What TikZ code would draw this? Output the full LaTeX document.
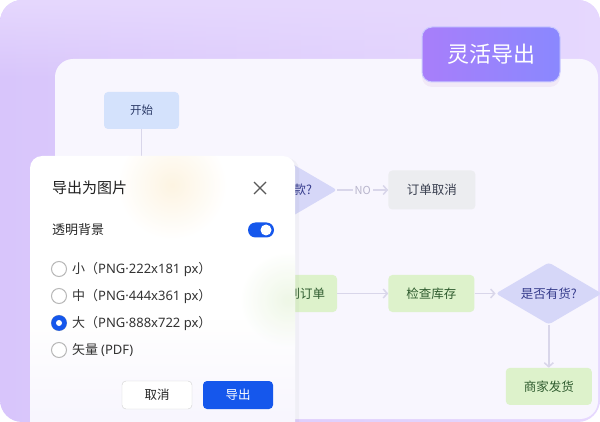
\documentclass[tikz,border=0pt]{standalone}
\usepackage{fontspec}
\setmainfont{Noto Sans CJK SC}
\newfontfamily\latinfont{Noto Sans}
\usetikzlibrary{positioning}
\usetikzlibrary{shapes.geometric}
\usetikzlibrary{arrows.meta}
\usetikzlibrary{shadows}
\usetikzlibrary{fadings}
\definecolor{bgtop}{HTML}{E6D8FE}
\definecolor{bgside}{HTML}{D8C5FB}
\definecolor{panelbg}{HTML}{F8F6FE}
\definecolor{startfill}{HTML}{D4E2FC}
\definecolor{startink}{HTML}{2B3A67}
\definecolor{askfill}{HTML}{D6D7F8}
\definecolor{askink}{HTML}{363C8C}
\definecolor{grayfill}{HTML}{ECEDF0}
\definecolor{grayink}{HTML}{3A4050}
\definecolor{greenfill}{HTML}{DDF2CB}
\definecolor{greenink}{HTML}{2E5B2E}
\definecolor{edgeink}{HTML}{D9D6EA}
\definecolor{noink}{HTML}{B8B5CC}
\definecolor{btnblue}{HTML}{1557EC}
\definecolor{dlgink}{HTML}{333333}
\definecolor{badgeleft}{HTML}{A87EFA}
\definecolor{badgeright}{HTML}{8A88FE}
\definecolor{blobyellow}{HTML}{FDF4E2}
\definecolor{blobgreen}{HTML}{EAF5E0}
\tikzset{
  flowbox/.style={rectangle, rounded corners=4pt, minimum width=87pt, minimum height=37pt,
    inner sep=0pt, font=\fontsize{12.5}{14}\selectfont},
  startbox/.style={flowbox, fill=startfill, text=startink, minimum width=75pt, font=\fontsize{11.5}{13}\selectfont},
  graybox/.style={flowbox, fill=grayfill, text=grayink, minimum height=39pt},
  greenbox/.style={flowbox, fill=greenfill, text=greenink},
  decision/.style={diamond, aspect=1.7, minimum width=106pt, minimum height=62pt, inner sep=0pt,
    fill=askfill, text=askink, rounded corners=3pt, font=\fontsize{12.5}{14}\selectfont},
  flowline/.style={draw=edgeink, line width=1.5pt, -{Straight Barb[length=4pt,width=9pt]}},
  nolabel/.style={fill=panelbg, text=noink, inner sep=2pt, font=\fontsize{11}{12}\selectfont},
  dlgtext/.style={anchor=west, inner sep=0pt, text=dlgink, font=\fontsize{13}{15}\selectfont},
  radiobtn/.style={draw=black!28, line width=1pt, fill=white},
  btn/.style={rectangle, rounded corners=4pt, minimum width=70pt, minimum height=28pt,
    inner sep=0pt, font=\fontsize{12.5}{14}\selectfont}
}
\begin{document}
\begin{tikzpicture}[x=1pt, y=-1pt]
        \useasboundingbox (0,0) rectangle (600,422);
        \clip[rounded corners=22pt] (0,0) rectangle (600,422);

        % background %
        \shade[left color=bgside, right color=bgtop] (0,0) rectangle (600,422);
        \fill[bgtop, path fading=south] (0,0) rectangle (600,80);
        \fill[panelbg, rounded corners=18pt] (55,59) rectangle (598,419);

        % nodes %
        \node[startbox] (start) at (141.5,110.5) {开始};
        \node[decision] (pay) at (284,190) {是否付款?};
        \node[graybox, right=51pt of pay] (cancel) {订单取消};
        \node[greenbox, minimum width=74pt] (recv) at (300,293.5) {收到订单};
        \node[greenbox, right=51pt of recv, minimum width=86pt] (check) {检查库存};
        \node[decision, right=21pt of check] (stock) {是否有货?};
        \node[greenbox, below=43pt of stock, minimum width=86pt] (ship) {商家发货};
        \coordinate (down) at (141.5,175);

        % edges %
        \draw[draw=edgeink, line width=1.5pt] (start) -- (down);
        \draw[flowline] (pay) -- node[nolabel] {NO} (cancel);
        \draw[flowline] (recv) -- (check);
        \draw[flowline] (check) -- (stock);
        \draw[flowline] (stock) -- (ship);

        % badge %
        \node[rounded corners=10pt, minimum width=138pt, minimum height=55pt, inner sep=0pt,
          left color=badgeleft, right color=badgeright,
          draw=white!55!badgeright, line width=1pt, text=white,
          drop shadow={opacity=0.05, shadow xshift=0pt, shadow yshift=-5pt, fill=violet},
          font=\fontsize{22}{24}\selectfont] (badge) at (491,54.5) {灵活导出};

        % dialog %
        \fill[white, rounded corners=12pt,
          drop shadow={opacity=0.06, shadow xshift=4pt, shadow yshift=-2pt}]
          (30,156) rectangle (295,440);
        \begin{scope}
          \clip[rounded corners=12pt] (30,156) rectangle (295,440);
          \shade[inner color=blobyellow, outer color=white] (172,185) circle (55);
          \shade[inner color=blobgreen, outer color=white, opacity=0.8] (288,300) circle (48);
        \end{scope}
        \fill[panelbg, path fading=north] (30,320) rectangle (295,422);
        \node[dlgtext, text=black!88, font=\fontsize{15}{17}\selectfont] (title) at (52,188) {导出为图片};
        \coordinate (xc) at (260,188);
        \draw[black!65, line width=1.3pt] ([shift={(-6,-6)}]xc) -- ([shift={(6,6)}]xc)
          ([shift={(-6,6)}]xc) -- ([shift={(6,-6)}]xc);
        \node[dlgtext, text=black!85] (bgopt) at (52,229.5) {透明背景};
        \fill[btnblue, rounded corners=7.5pt] (248,222.5) rectangle (274,237.5);
        \fill[white] (266,230) circle (5.5);

        \foreach \y/\name/\lbl in {269/small/小（{\latinfont PNG·222x181 px}）, 296/medium/中（{\latinfont PNG·444x361 px}）,
                                   323/large/大（{\latinfont PNG·888x722 px}）, 350/vector/矢量 {\latinfont (PDF)}} {
          \draw[radiobtn] (59,\y) circle (7.5);
          \node[dlgtext] (\name) at (72,\y) {\lbl};
        }
        \fill[btnblue] (59,323) circle (7.8);
        \fill[white] (59,323) circle (3);

        \node[btn, draw=black!18, fill=white, text=black!85] (cancelbtn) at (157,395) {取消};
        \node[btn, fill=btnblue, text=white] (export) at (238,395) {导出};
      \end{tikzpicture}
\end{document}
